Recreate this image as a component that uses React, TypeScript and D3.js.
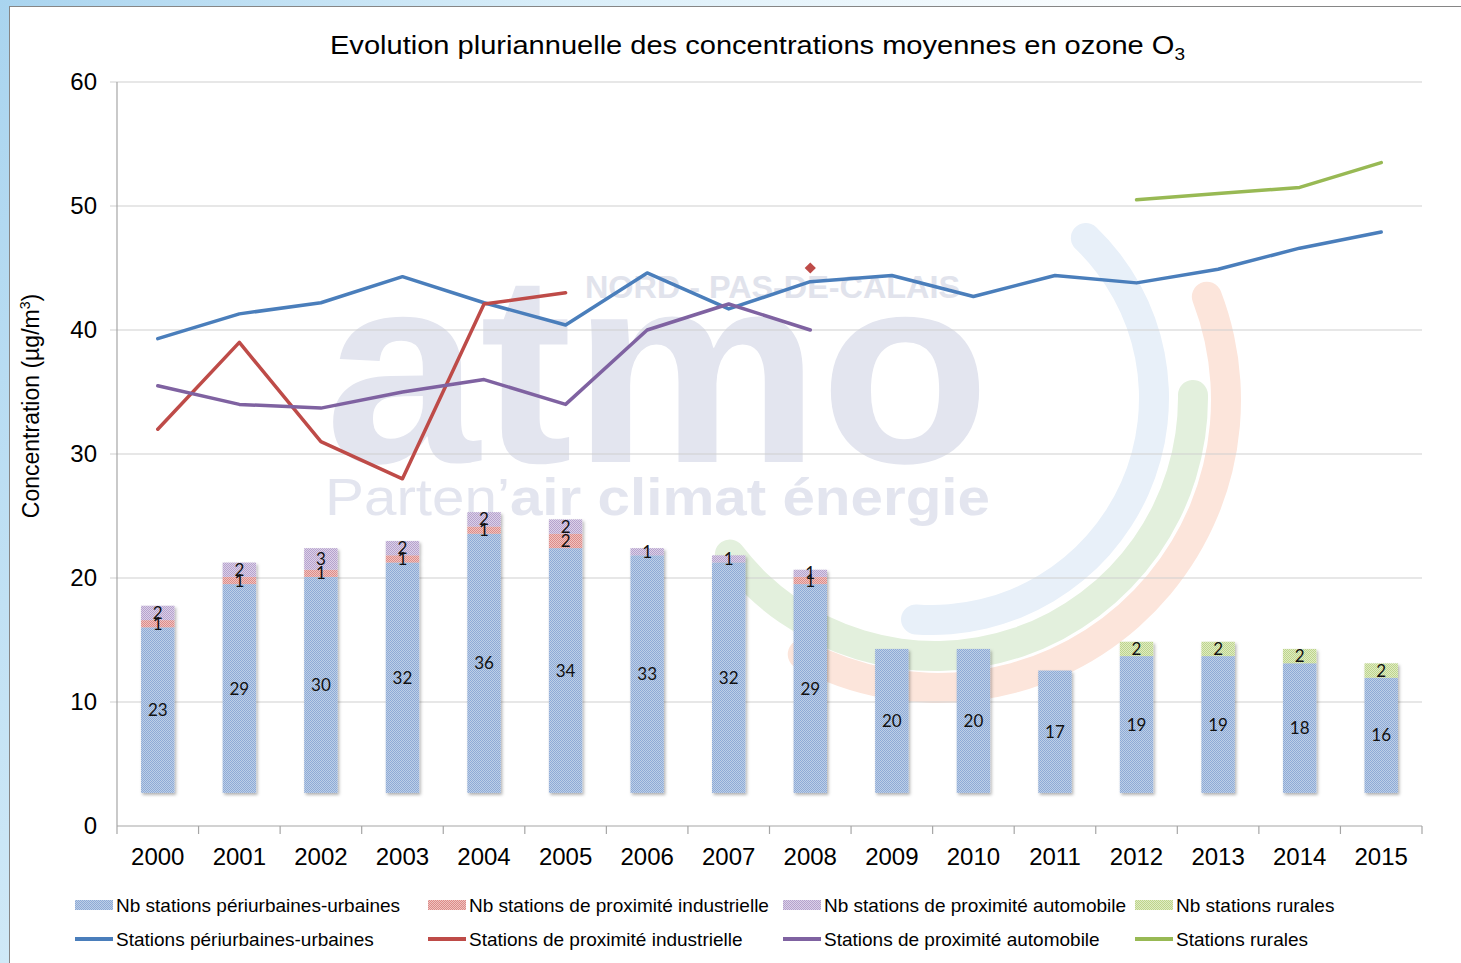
import * as d3 from 'd3'

const years = ['2000', '2001', '2002', '2003', '2004', '2005', '2006', '2007', '2008', '2009', '2010', '2011', '2012', '2013', '2014', '2015']

// number of stations (stacked bars, secondary scale)
const nbUrbaines = [23, 29, 30, 32, 36, 34, 33, 32, 29, 20, 20, 17, 19, 19, 18, 16]
const nbIndustrielle = [1, 1, 1, 1, 1, 2, 0, 0, 1, 0, 0, 0, 0, 0, 0, 0]
const nbAutomobile = [2, 2, 3, 2, 2, 2, 1, 1, 1, 0, 0, 0, 0, 0, 0, 0]
const nbRurales = [0, 0, 0, 0, 0, 0, 0, 0, 0, 0, 0, 0, 2, 2, 2, 2]

// mean ozone concentrations (µg/m3)
const concUrbaines = [39.3, 41.3, 42.2, 44.3, 42.2, 40.4, 44.6, 41.7, 43.9, 44.4, 42.7, 44.4, 43.8, 44.9, 46.6, 47.9]
const concIndustrielle = [32, 39, 31, 28, 42.1, 43, null, null, 45, null, null, null, null, null, null, null]
const concAutomobile = [35.5, 34, 33.7, 35, 36, 34, 40, 42.1, 40, null, null, null, null, null, null, null]
const concRurales = [null, null, null, null, null, null, null, null, null, null, null, null, 50.5, 51, 51.5, 53.5]

const yTicks = [0, 10, 20, 30, 40, 50, 60]

type Row = Record<string, number> & { year: string }

const barSeries = [
  { key: 'urb', label: 'Nb stations périurbaines-urbaines', c1: '#8eaad6', c2: '#bdcfe7' },
  { key: 'ind', label: 'Nb stations de proximité industrielle', c1: '#dc8b88', c2: '#f0c3c1' },
  { key: 'auto', label: 'Nb stations de proximité automobile', c1: '#b5a2cd', c2: '#dcd1e8' },
  { key: 'rur', label: 'Nb stations rurales', c1: '#bdd48c', c2: '#e0ecc4' },
]
const lineSeries = [
  { label: 'Stations périurbaines-urbaines', color: '#4a7ebb', values: concUrbaines },
  { label: 'Stations de proximité industrielle', color: '#be4b48', values: concIndustrielle },
  { label: 'Stations de proximité automobile', color: '#7f62a1', values: concAutomobile },
  { label: 'Stations rurales', color: '#98b954', values: concRurales },
]

export default function App() {
  const W = 1461
  const H = 963
  const left = 117
  const right = 1422
  const top = 82
  const bottom = 826
  const font = '"Liberation Sans", Arial, sans-serif'

  const x = d3.scaleBand().domain(years).range([left, right])
  const cx = (yr: string) => x(yr)! + x.bandwidth() / 2
  const barW = x.bandwidth() * 0.41
  const y = d3.scaleLinear().domain([0, 60]).range([bottom, top])
  // hidden secondary axis for the station counts
  const yc = d3.scaleLinear().domain([-4.6, 98.75]).range([bottom, top])

  const table: Row[] = years.map((yr, i) => ({
    year: yr,
    urb: nbUrbaines[i],
    ind: nbIndustrielle[i],
    auto: nbAutomobile[i],
    rur: nbRurales[i],
  })) as Row[]
  const stacked = d3.stack<Row>().keys(barSeries.map((s) => s.key))(table)

  const line = d3
    .line<number | null>()
    .defined((d) => d != null)
    .x((_, i) => cx(years[i]))
    .y((d) => y(d as number))

  // watermark arcs (d3 angles: 0 = 12 o'clock, clockwise)
  const deg = Math.PI / 180
  const arcs = [
    { cxy: [932, 398], r: 222, a0: 40, a1: 188, color: '#e8f0f9' },
    { cxy: [935, 398], r: 258, a0: 86, a1: 236, color: '#e3f0dd' },
    { cxy: [938, 400], r: 288, a0: 66, a1: 211, color: '#fce5db' },
  ]
  const arcGen = d3.arc<any>().cornerRadius(15)

  const legendX = [75, 428, 783, 1135]

  return (
    <div style={{ position: 'absolute', left: 0, top: 0 }}>
      <svg width={W} height={H} fontFamily={font} style={{ display: 'block' }}>
        <defs>
          <linearGradient id="bg" x1="0" y1="0" x2="1" y2="0.3">
            <stop offset="0" stopColor="#a9d4ef" />
            <stop offset="0.35" stopColor="#d9eef9" />
            <stop offset="0.75" stopColor="#ffffff" />
          </linearGradient>
          {barSeries.map((s) => (
            <pattern key={s.key} id={`p-${s.key}`} width={2} height={2} patternUnits="userSpaceOnUse">
              <rect width={2} height={2} fill={s.c2} />
              <rect width={1} height={1} fill={s.c1} />
              <rect x={1} y={1} width={1} height={1} fill={s.c1} />
            </pattern>
          ))}
          <filter id="shadow" x="-20%" y="-10%" width="150%" height="130%">
            <feDropShadow dx={1.5} dy={2} stdDeviation={1.5} floodColor="#000" floodOpacity={0.3} />
          </filter>
        </defs>

        <rect width={W} height={H} fill="url(#bg)" />
        <rect x={9.5} y={6.5} width={W} height={H} fill="#fff" stroke="#868686" />

        {/* watermark */}
        <g>
          {arcs.map((a, i) => (
            <path
              key={i}
              transform={`translate(${a.cxy[0]},${a.cxy[1]})`}
              d={arcGen({ innerRadius: a.r - 15, outerRadius: a.r + 15, startAngle: a.a0 * deg, endAngle: a.a1 * deg })!}
              fill={a.color}
            />
          ))}
          <text x={325} y={462} fontSize={270} fontWeight="bold" fill="#e3e5ef" textLength={665} lengthAdjust="spacingAndGlyphs">
            atmo
          </text>
          <text x={325} y={515} fontSize={52} fill="#e3e5ef" textLength={665} lengthAdjust="spacingAndGlyphs">
            Parten’<tspan fontWeight="bold">air climat énergie</tspan>
          </text>
          <text x={585} y={298} fontSize={31} fontWeight="bold" fill="#e1e3ec" textLength={375} lengthAdjust="spacingAndGlyphs">
            NORD - PAS-DE-CALAIS
          </text>
        </g>

        <text x={330} y={54} fontSize={26} fill="#000" textLength={855} lengthAdjust="spacingAndGlyphs">
          Evolution pluriannuelle des concentrations moyennes en ozone O<tspan fontSize={17} dy={6}>3</tspan>
        </text>

        {/* y axis + grid */}
        <g fontSize={24} fill="#000">
          {yTicks.map((t) => (
            <g key={t} transform={`translate(0,${y(t)})`}>
              {t > 0 && <line x1={left - 7} x2={right} stroke="#d0d0d0" strokeWidth={1.2} />}
              <text x={97} dy="0.35em" textAnchor="end">
                {t}
              </text>
            </g>
          ))}
          <line x1={left} x2={left} y1={top} y2={bottom} stroke="#a6a6a6" strokeWidth={1.2} />
        </g>
        <text transform={`translate(39,406) rotate(-90)`} fontSize={23} textAnchor="middle" fill="#000">
          Concentration (µg/m<tspan fontSize={14} dy={-9}>3</tspan>
          <tspan dy={9}>)</tspan>
        </text>

        {/* bars */}
        {years.map((yr, i) => (
          <g key={yr} filter="url(#shadow)">
            {stacked.map((layer, k) => {
              const [y0, y1] = layer[i]
              if (y1 - y0 <= 0) return null
              return (
                <rect
                  key={k}
                  x={cx(yr) - barW / 2}
                  width={barW}
                  y={yc(y1)}
                  height={yc(y0) - yc(y1)}
                  fill={`url(#p-${barSeries[k].key})`}
                />
              )
            })}
          </g>
        ))}
        <g fontFamily="Lato, sans-serif" fontSize={17} textAnchor="middle" fill="#111">
          {years.map((yr, i) =>
            stacked.map((layer, k) => {
              const [y0, y1] = layer[i]
              if (y1 - y0 <= 0) return null
              return (
                <text key={`${yr}-${k}`} x={cx(yr)} y={yc((y0 + y1) / 2)} dy="0.36em">
                  {y1 - y0}
                </text>
              )
            })
          )}
        </g>

        {/* x axis */}
        <g fontSize={24} textAnchor="middle" fill="#000">
          <line x1={left} x2={right} y1={bottom} y2={bottom} stroke="#a6a6a6" strokeWidth={1.2} />
          {years.map((yr) => (
            <line key={yr} x1={x(yr)!} x2={x(yr)!} y1={bottom} y2={bottom + 8} stroke="#a6a6a6" strokeWidth={1.2} />
          ))}
          <line x1={right} x2={right} y1={bottom} y2={bottom + 8} stroke="#a6a6a6" strokeWidth={1.2} />
          {years.map((yr) => (
            <text key={yr} x={cx(yr)} y={865}>
              {yr}
            </text>
          ))}
        </g>

        {/* lines */}
        <g fill="none" strokeWidth={3.5} strokeLinejoin="round" strokeLinecap="round">
          {lineSeries.map((s) => (
            <g key={s.label}>
              <path d={line(s.values)!} stroke={s.color} />
              {s.values.map((v, i) =>
                v != null && s.values[i - 1] == null && s.values[i + 1] == null ? (
                  <path
                    key={i}
                    d={d3.symbol(d3.symbolDiamond2, 80)()!}
                    transform={`translate(${cx(years[i])},${y(v)})`}
                    fill={s.color}
                    stroke="none"
                  />
                ) : null
              )}
            </g>
          ))}
        </g>

        {/* legend */}
        <g fontSize={19} fill="#000">
          {barSeries.map((s, i) => (
            <g key={s.key} transform={`translate(${legendX[i]},905)`}>
              <rect x={0} y={-5} width={38} height={10} fill={`url(#p-${s.key})`} />
              <text x={41} dy="0.35em">
                {s.label}
              </text>
            </g>
          ))}
          {lineSeries.map((s, i) => (
            <g key={s.label} transform={`translate(${legendX[i]},939)`}>
              <line x1={0} x2={38} stroke={s.color} strokeWidth={4} />
              <text x={41} dy="0.35em">
                {s.label}
              </text>
            </g>
          ))}
        </g>
      </svg>
    </div>
  )
}
